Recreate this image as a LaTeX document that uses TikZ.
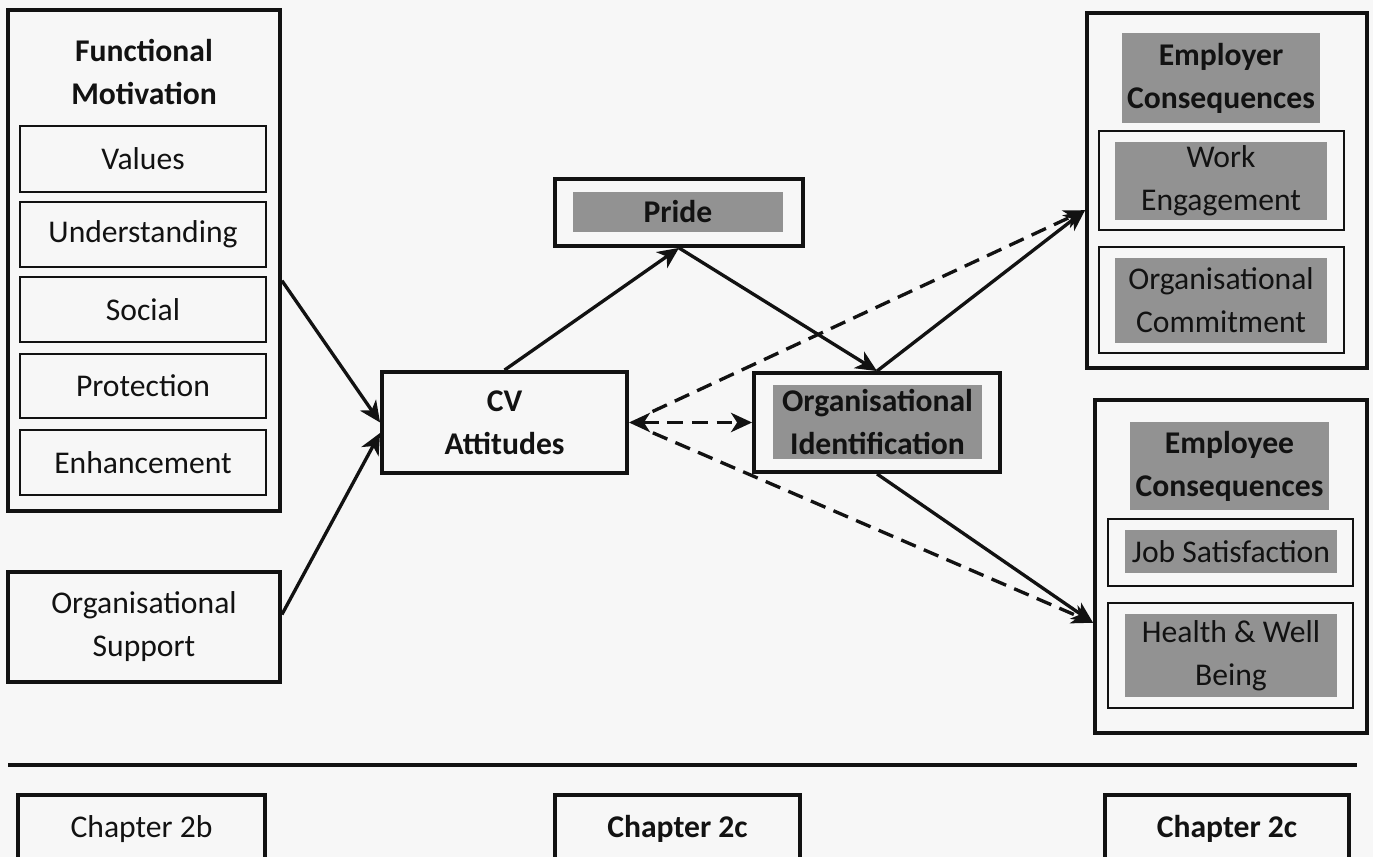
\documentclass[tikz,border=0pt]{standalone}
\usepackage{fontspec}
\setmainfont{Carlito}
\usetikzlibrary{arrows.meta,calc}
\definecolor{paper}{RGB}{247,247,247}
\definecolor{shade}{RGB}{146,146,146}
\definecolor{ink}{RGB}{18,18,18}
\tikzset{
  every node/.style={font=\fontsize{18}{24.5}\selectfont, text=ink, align=center, inner sep=0pt},
  sz/.style 2 args={minimum width=#1*0.02cm, minimum height=#2*0.02cm},
  frame/.style={draw=ink, line width=2.2pt, rectangle},
  cell/.style={draw=ink, line width=1.3pt, rectangle},
  tint/.style={fill=shade, rectangle},
  heavy/.style={font=\fontsize{18}{24.5}\selectfont\bfseries},
  tip/.tip={Stealth[length=12pt,width=11pt,inset=3.5pt]},
  link/.style={draw=ink, line width=1.9pt, -tip},
  hint/.style={link, dash pattern=on 9pt off 5pt},
}
\begin{document}
\begin{tikzpicture}[x=0.02cm, y=-0.02cm]
  \fill[paper] (0,0) rectangle (1373,857);
  \useasboundingbox (0,0) rectangle (1373,857);
  \clip (0,0) rectangle (1373,857);

  % motivations
  \node[frame, sz={272}{501}] (fm) at (144,260.5) {};
  \node[heavy] (fmt) at (144,72) {Functional\\Motivation};
  \node[cell, sz={246}{66}] (val) at (143,159) {Values};
  \node[cell, sz={246}{65}] (und) at (143,234.5) {Understanding};
  \node[cell, sz={246}{65}] (soc) at (143,309.5) {Social};
  \node[cell, sz={246}{64}] (pro) at (143,386) {Protection};
  \node[cell, sz={246}{65}] (enh) at (143,462.5) {Enhancement};

  \node[frame, sz={272}{110}] (os) at (144,627) {Organisational\\Support};

  % centre of the model
  \node[frame, sz={245}{101}, heavy] (cv) at (504.5,422.5) {CV\\Attitudes};
  \node[frame, sz={248}{67}] (pr) at (679,212.5) {};
  \node[tint, sz={210}{40}, heavy] (prt) at (678,212) {Pride};
  \node[frame, sz={246}{99}] (oi) at (877,422.5) {};
  \node[tint, sz={209}{74}, heavy] (oit) at (877.5,422) {Organisational\\Identification};

  % employer side
  \node[frame, sz={280}{355}] (er) at (1227,190.5) {};
  \node[tint, sz={198}{90}, heavy] (ert) at (1221,78) {Employer\\Consequences};
  \node[cell, sz={245}{99}] (we) at (1221.5,180.5) {};
  \node[tint, sz={212}{78}] (wet) at (1221,181) {Work\\Engagement};
  \node[cell, sz={245}{106}] (oc) at (1221.5,300) {};
  \node[tint, sz={212}{85}] (oct) at (1221,300.5) {Organisational\\Commitment};

  % employee side
  \node[frame, sz={272}{333}] (ee) at (1231,566.5) {};
  \node[tint, sz={199}{88}, heavy] (eet) at (1229.5,466) {Employee\\Consequences};
  \node[cell, sz={245}{67}] (js) at (1230.5,552.5) {};
  \node[tint, sz={212}{43}] (jst) at (1231,551.5) {Job Satisfaction};
  \node[cell, sz={245}{105}] (hw) at (1230.5,655.5) {};
  \node[tint, sz={212}{83}] (hwt) at (1231,655.5) {Health \& Well\\Being};

  % paths
  \draw[link] ($(fm.north east)!0.54!(fm.south east)$) -- (cv.west);
  \draw[link] ($(os.north east)!0.39!(os.south east)$) -- ($(cv.north west)!0.6!(cv.south west)$);
  \draw[link] (cv.north) -- (pr.south);
  \draw[link] (pr.south) -- (oi.north);
  \draw[link] (oi.north) -- ($(er.north west)!0.555!(er.south west)$);
  \draw[link] (oi.south) -- ($(ee.north west)!0.667!(ee.south west)$);
  \draw[hint, tip-tip] (cv.east) -- (oi.west);
  \draw[hint, shorten <=26*0.02cm] (cv.east) -- ($(er.north west)!0.555!(er.south west)$);
  \draw[hint, shorten <=26*0.02cm] (cv.east) -- ($(ee.north west)!0.667!(ee.south west)$);

  % chapter strip
  \coordinate (rl) at (8,765);
  \coordinate (rr) at (1357,765);
  \draw[ink, line width=2.2pt] (rl) -- (rr);
  \node[frame, sz={247}{90}] (c1) at (141.5,840) {};
  \node (c1t) at (141.5,829) {Chapter 2b};
  \node[frame, sz={245}{90}] (c2) at (677.5,840) {};
  \node[heavy] (c2t) at (677.5,829) {Chapter 2c};
  \node[frame, sz={244}{90}] (c3) at (1227,840) {};
  \node[heavy] (c3t) at (1227,829) {Chapter 2c};
\end{tikzpicture}
\end{document}
